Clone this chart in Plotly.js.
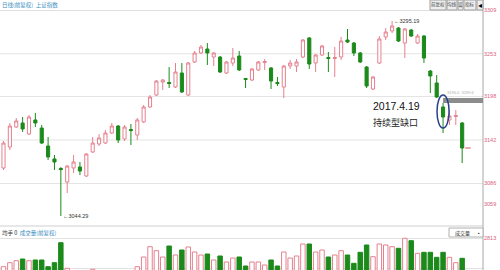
<!DOCTYPE html>
<html>
<head>
<meta charset="utf-8">
<script src="https://cdn.plot.ly/plotly-3.0.1.min.js"></script>
<style>
  html, body { margin: 0; padding: 0; background: #ffffff; }
  #chart { width: 500px; height: 270px; }
</style>
</head>
<body>
<div id="chart"></div>
<script>
// 上证指数 日K线 (前复权) — daily open / high / low / close
const openP = [3106.0, 3133.0, 3158.7, 3163.9, 3149.7, 3167.8, 3157.4, 3134.3, 3117.6, 3105.3,
  3087.9, 3106.0, 3107.3, 3095.7, 3126.6, 3136.9, 3138.1, 3151.0, 3160.0, 3143.3,
  3155.5, 3148.4, 3165.2, 3184.5, 3199.9, 3216.6, 3216.0, 3210.2, 3228.2, 3199.9,
  3242.4, 3254.0, 3259.1, 3248.8, 3248.8, 3228.2, 3241.1, 3250.1, 3221.2, 3219.2,
  3232.1, 3241.8, 3234.7, 3216.0, 3210.2, 3237.2, 3237.2, 3248.8, 3273.3, 3241.1,
  3251.4, 3248.2, 3246.9, 3248.8, 3270.7, 3266.8, 3254.0, 3235.9, 3207.6, 3241.1,
  3274.6, 3282.3, 3286.1, 3266.8, 3283.6, 3266.8, 3275.8, 3230.8, 3215.4, 3184.5,
  3167.8, 3172.2, 3163.9];
const highP = [3140.7, 3163.9, 3170.3, 3171.6, 3174.2, 3176.8, 3161.3, 3145.9, 3122.7, 3107.3,
  3109.8, 3122.7, 3113.7, 3125.3, 3145.9, 3149.7, 3154.9, 3163.9, 3161.3, 3161.3,
  3162.6, 3170.3, 3187.0, 3199.9, 3219.2, 3220.5, 3235.9, 3241.1, 3241.1, 3242.4,
  3256.5, 3264.3, 3266.8, 3255.3, 3250.1, 3243.7, 3260.4, 3256.5, 3221.8, 3234.7,
  3243.7, 3246.2, 3235.9, 3223.1, 3238.5, 3245.0, 3246.2, 3272.0, 3274.6, 3252.7,
  3264.3, 3255.3, 3261.7, 3274.6, 3284.9, 3268.1, 3255.3, 3237.2, 3224.4, 3275.8,
  3286.1, 3295.19, 3287.4, 3286.1, 3284.9, 3278.4, 3277.1, 3232.1, 3225.6, 3189.6,
  3180.6, 3180.6, 3165.2];
const lowP = [3103.4, 3129.1, 3157.4, 3152.3, 3148.4, 3158.7, 3136.9, 3116.3, 3103.4, 3044.29,
  3073.8, 3099.5, 3096.9, 3094.4, 3125.3, 3134.3, 3136.9, 3149.7, 3138.1, 3140.7,
  3135.6, 3142.0, 3163.9, 3183.2, 3198.6, 3206.3, 3208.9, 3208.9, 3202.5, 3198.6,
  3241.1, 3252.7, 3238.5, 3237.2, 3228.2, 3226.9, 3237.2, 3230.8, 3208.9, 3217.9,
  3230.8, 3232.1, 3207.6, 3211.5, 3196.0, 3233.4, 3229.5, 3247.5, 3233.4, 3229.5,
  3250.1, 3229.5, 3223.1, 3245.0, 3266.8, 3250.1, 3241.1, 3208.9, 3206.3, 3239.8,
  3270.7, 3279.7, 3268.1, 3247.5, 3274.6, 3265.6, 3241.1, 3202.5, 3196.0, 3151.0,
  3161.3, 3161.3, 3112.4];
const closeP = [3138.1, 3160.0, 3166.5, 3156.2, 3171.6, 3163.9, 3138.1, 3120.1, 3113.7, 3104.0,
  3108.5, 3113.7, 3102.1, 3124.0, 3138.1, 3144.6, 3151.0, 3160.0, 3142.0, 3158.7,
  3154.2, 3167.8, 3184.5, 3197.3, 3217.9, 3219.2, 3214.7, 3229.5, 3203.8, 3241.1,
  3254.0, 3261.7, 3254.0, 3254.0, 3229.5, 3242.4, 3247.5, 3232.1, 3219.9, 3233.4,
  3242.4, 3243.0, 3217.9, 3214.7, 3237.2, 3241.1, 3242.4, 3270.7, 3239.8, 3251.4,
  3263.0, 3246.9, 3248.2, 3269.4, 3268.1, 3254.0, 3242.4, 3211.5, 3223.1, 3272.0,
  3281.0, 3288.7, 3269.4, 3284.9, 3275.8, 3275.8, 3247.5, 3224.4, 3197.3, 3171.6,
  3172.9, 3173.5, 3131.7];
// 成交量 (万手)
const volume = [1480, 1665, 1758, 1837, 1758, 1791, 1791, 1480, 1665, 2595,
  1405, 1150, 1120, 1180, 1359, 1210, 1160, 1240, 1190, 1230,
  1140, 1480, 1930, 2409, 2223, 1930, 2441, 2023, 2255, 2395,
  2162, 2023, 2069, 1791, 1976, 1698, 1883, 1930, 1512, 1698,
  1698, 1558, 1791, 1512, 2162, 1883, 1976, 2534, 2534, 2162,
  2255, 1930, 2023, 2223, 2023, 1637, 2148, 2488, 1944, 2534,
  2488, 2409, 2334, 2799, 2688, 2102, 2148, 2148, 1916, 2148,
  1916, 1665, 1869];

const priceTicks = [3309, 3253, 3198, 3142, 3086, 3059];
const priceGrid = [3309, 3253, 3198, 3142, 3086];
const volTicks = [2813, 1419];
const gapIdx = 69;          // 2017.4.19
const lowIdx = 9;           // 3044.29
const highIdx = 61;         // 3295.19

const UP = '#e5818f';
const DOWN = '#1b8a1b';
const LABEL = '#d9607f';

const days = openP.map((_, i) => i);
const isUp = closeP.map((c, i) => c >= openP[i]);

const candles = {
  type: 'candlestick',
  x: days, open: openP, high: highP, low: lowP, close: closeP,
  xaxis: 'x', yaxis: 'y',
  increasing: { line: { color: UP, width: 1 }, fillcolor: '#ffffff' },
  decreasing: { line: { color: DOWN, width: 1 }, fillcolor: DOWN },
  whiskerwidth: 0,
  hoverinfo: 'skip', showlegend: false
};

const lastMark = {
  type: 'scatter', mode: 'markers',
  x: [days[days.length - 1] + 0.9], y: [closeP[closeP.length - 1]],
  xaxis: 'x', yaxis: 'y',
  marker: { symbol: 'line-ew', size: 4, line: { color: '#e0506a', width: 1 } },
  hoverinfo: 'skip', showlegend: false
};

const volBars = {
  type: 'bar', x: days, y: volume, xaxis: 'x', yaxis: 'y2',
  width: 0.7,
  marker: {
    color: isUp.map(u => u ? '#ffffff' : DOWN),
    line: { color: isUp.map(u => u ? UP : DOWN), width: 1 }
  },
  hoverinfo: 'skip', showlegend: false
};

const W = 483, H = 270;
const px = v => v / W;            // horizontal pixel -> paper
const py = v => 1 - v / H;        // vertical pixel -> paper

const shapes = [];
priceGrid.forEach(v => shapes.push({
  type: 'line', xref: 'paper', yref: 'y', x0: 0, x1: 1, y0: v, y1: v,
  line: { color: v === priceGrid[0] ? '#d4d4d4' : '#e4e4e4', width: 1 }, layer: 'below'
}));
// panel separator and right axis line
shapes.push({ type: 'line', xref: 'paper', yref: 'paper', x0: 0, x1: 1, y0: py(226), y1: py(226),
  line: { color: '#cfcfcf', width: 1 } });
shapes.push({ type: 'line', xref: 'paper', yref: 'paper', x0: 1, x1: 1, y0: 0, y1: 1,
  line: { color: '#a8a8a8', width: 1 } });
// gap band between the two sessions
shapes.push({ type: 'rect', xref: 'x', yref: 'y', x0: gapIdx, x1: 80,
  y0: highP[gapIdx], y1: lowP[gapIdx - 1], fillcolor: '#8c8c8c', line: { width: 0 } });
// ellipse around the gap candle
shapes.push({ type: 'circle', xref: 'x', yref: 'y', x0: gapIdx - 0.95, x1: gapIdx + 0.95,
  y0: 3157.4, y1: 3199.9, line: { color: '#2a3f8c', width: 1.5 } });

// toolbar buttons (top right)
const buttons = [
  { a: 430, b: 446, t: '前复权' }, { a: 447, b: 457, t: '均线' }, { a: 458, b: 463, t: '设' },
  { a: 464, b: 476, t: '指标' }, { a: 477, b: 483, t: '◀' }
];
buttons.forEach(bt => shapes.push({ type: 'rect', xref: 'paper', yref: 'paper',
  x0: px(bt.a), x1: px(bt.b), y0: py(10), y1: 1, fillcolor: '#eeeeee', line: { color: '#a0a0a0', width: 1 } }));
// 成交量 selector box
shapes.push({ type: 'rect', xref: 'paper', yref: 'paper', x0: px(449), x1: 1, y0: py(237), y1: py(228),
  fillcolor: '#ffffff', line: { color: '#b0b0b0', width: 1 } });

const CJK = 'Noto Sans CJK SC, sans-serif';
const SANS = 'Liberation Sans, Arial, sans-serif';

const annotations = [
  { xref: 'paper', yref: 'paper', x: 0, y: py(4.5), xanchor: 'left', yanchor: 'middle', showarrow: false,
    text: '日线(前复权)  上证指数', font: { family: CJK, size: 5.5, color: '#3a8ec0' } },
  { xref: 'paper', yref: 'paper', x: 0, y: py(233), xanchor: 'left', yanchor: 'middle', showarrow: false,
    text: '均手 0  <span style="color:#3a8ec0">成交量(前复权)</span>', font: { family: CJK, size: 5.5, color: '#333' } },
  { xref: 'paper', yref: 'paper', x: px(462), y: py(232.5), xanchor: 'center', yanchor: 'middle', showarrow: false,
    text: '成交量', font: { family: CJK, size: 5, color: '#333' } },
  { xref: 'paper', yref: 'paper', x: px(479), y: py(232.5), xanchor: 'center', yanchor: 'middle', showarrow: false,
    text: '▪', font: { family: SANS, size: 5, color: '#333' } },
  { xref: 'x', yref: 'y', x: lowIdx, y: lowP[lowIdx], xanchor: 'left', yanchor: 'middle', showarrow: false,
    text: '←' + lowP[lowIdx].toFixed(2), font: { family: SANS, size: 5.5, color: '#333' } },
  { xref: 'x', yref: 'y', x: highIdx, y: highP[highIdx], xanchor: 'left', yanchor: 'middle', showarrow: false,
    text: '←' + highP[highIdx].toFixed(2), font: { family: SANS, size: 5.5, color: '#333' } },
  { xref: 'paper', yref: 'paper', x: px(445), y: py(92), xanchor: 'left', yanchor: 'middle', showarrow: false,
    text: lowP[gapIdx - 1].toFixed(1) + '  ' + highP[gapIdx].toFixed(1), font: { family: SANS, size: 4, color: '#b0b0b0' } },
  { xref: 'paper', yref: 'paper', x: px(371), y: py(105.5), xanchor: 'left', yanchor: 'middle', showarrow: false,
    text: '2017.4.19', font: { family: SANS, size: 10.5, color: '#111' } },
  { xref: 'paper', yref: 'paper', x: px(371), y: py(123), xanchor: 'left', yanchor: 'middle', showarrow: false,
    text: '持续型缺口', font: { family: CJK, size: 9, color: '#222' } }
];
buttons.forEach(bt => annotations.push({ xref: 'paper', yref: 'paper', x: px((bt.a + bt.b) / 2), y: py(5),
  xanchor: 'center', yanchor: 'middle', showarrow: false, text: bt.t,
  font: { family: CJK, size: 4.5, color: bt.t === '◀' ? '#000' : '#444' } }));

const layout = {
  width: 500, height: 270,
  margin: { l: 0, r: 17, t: 0, b: 0, pad: 0 },
  paper_bgcolor: '#ffffff', plot_bgcolor: '#ffffff',
  showlegend: false,
  xaxis: { range: [-0.55, 75.27], visible: false, fixedrange: true,
    rangeslider: { visible: false }, anchor: 'y2' },
  yaxis: { domain: [py(222), py(10)], range: [3036.5, 3309.3], side: 'right',
    tickvals: priceTicks, ticktext: priceTicks.map(String), showgrid: false, zeroline: false,
    ticks: '', tickfont: { family: SANS, size: 5.5, color: LABEL }, fixedrange: true },
  yaxis2: { domain: [0, py(227)], range: [1326, 3324], side: 'right',
    tickvals: volTicks, ticktext: volTicks.map(String), showgrid: true, gridcolor: '#e2e2e2', zeroline: false,
    ticks: '', tickfont: { family: SANS, size: 5.5, color: LABEL }, fixedrange: true },
  shapes: shapes,
  annotations: annotations
};

Plotly.newPlot('chart', [volBars, candles, lastMark], layout, { staticPlot: true, displayModeBar: false });
</script>
</body>
</html>
